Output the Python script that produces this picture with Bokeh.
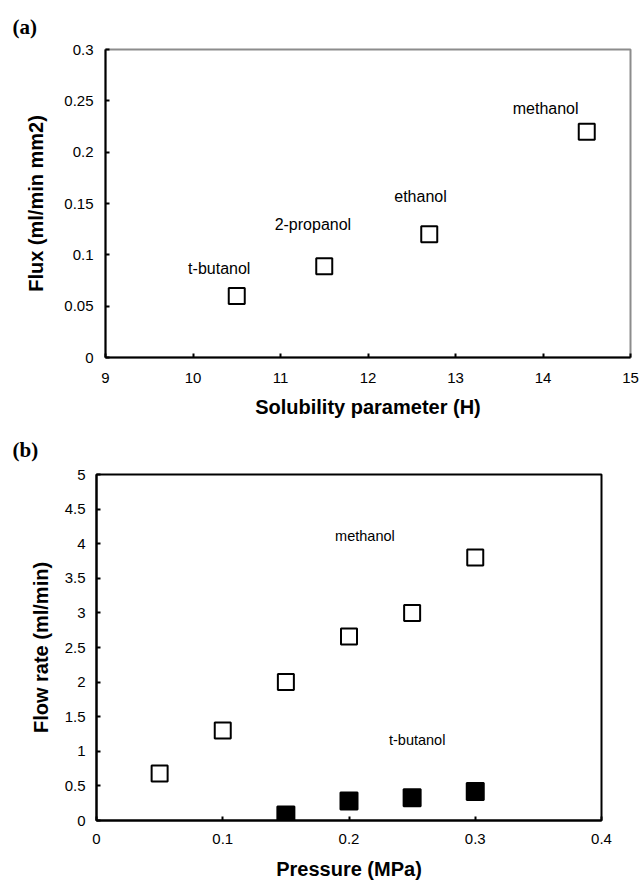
from bokeh.plotting import figure
from bokeh.layouts import column
from bokeh.models import Range1d, FixedTicker, PrintfTickFormatter, ColumnDataSource, Title
from bokeh.core.properties import value
from bokeh.embed import file_html
from bokeh.resources import INLINE

# ---- Panel (a) data ----
solvents_a = ["t-butanol", "2-propanol", "ethanol", "methanol"]
solubility = [10.5, 11.5, 12.7, 14.5]
flux = [0.06, 0.089, 0.12, 0.22]
label_x_a = [10.30, 11.37, 12.60, 14.03]
label_y_a = [0.087, 0.130, 0.157, 0.243]
xticks_a = [9, 10, 11, 12, 13, 14, 15]
yticks_a = [0, 0.05, 0.1, 0.15, 0.2, 0.25, 0.3]

# ---- Panel (b) data ----
pressure_meoh = [0.05, 0.10, 0.15, 0.20, 0.25, 0.30]
flow_meoh = [0.68, 1.30, 2.00, 2.66, 3.00, 3.80]
pressure_tbuoh = [0.15, 0.20, 0.25, 0.30]
flow_tbuoh = [0.08, 0.28, 0.33, 0.42]
labels_b = ["methanol", "t-butanol"]
label_x_b = [0.2126, 0.254]
label_y_b = [4.11, 1.16]
xticks_b = [0, 0.1, 0.2, 0.3, 0.4]
yticks_b = [0, 0.5, 1, 1.5, 2, 2.5, 3, 3.5, 4, 4.5, 5]

SANS = "Liberation Sans"
SERIF = "Liberation Serif"


def style_axes(p, xticks, yticks, xlabel, ylabel, tick_standoff_x, tick_standoff_y,
               title_standoff_x, title_standoff_y):
    p.xaxis.ticker = FixedTicker(ticks=xticks)
    p.yaxis.ticker = FixedTicker(ticks=yticks)
    p.xaxis.formatter = PrintfTickFormatter(format="%g")
    p.yaxis.formatter = PrintfTickFormatter(format="%g")
    p.xgrid.visible = False
    p.ygrid.visible = False
    p.xaxis.axis_label = xlabel
    p.yaxis.axis_label = ylabel
    for ax in (p.xaxis[0], p.yaxis[0]):
        ax.axis_line_color = "black"
        ax.axis_line_width = 2
        ax.major_tick_line_color = "black"
        ax.major_tick_line_width = 2
        ax.major_tick_in = 4
        ax.major_tick_out = 0
        ax.minor_tick_line_color = None
        ax.major_label_text_font = SANS
        ax.major_label_text_font_size = "15px"
        ax.major_label_text_color = "black"
        ax.axis_label_text_font = SANS
        ax.axis_label_text_font_style = "bold"
        ax.axis_label_text_font_size = "20px"
        ax.axis_label_text_color = "black"
    p.xaxis.major_label_standoff = tick_standoff_x
    p.yaxis.major_label_standoff = tick_standoff_y
    p.xaxis.axis_label_standoff = title_standoff_x
    p.yaxis.axis_label_standoff = title_standoff_y


def panel_tag(text, offset, standoff):
    return Title(text=text, align="left", offset=offset, standoff=standoff,
                 text_font=SERIF, text_font_style="bold", text_font_size="21px",
                 text_color="black")


# ---------------- Panel (a) ----------------
pa = figure(frame_width=525, frame_height=308,
            min_border_left=105, min_border_right=10,
            min_border_top=49, min_border_bottom=63,
            x_range=Range1d(9, 15), y_range=Range1d(0, 0.3),
            output_backend="svg", toolbar_location=None)
pa.outline_line_color = "#8c8c8c"
pa.outline_line_width = 2
style_axes(pa, xticks_a, yticks_a, "Solubility parameter (H)", "Flux (ml/min mm2)",
           15, 12, 10, 14)

src_a = ColumnDataSource(dict(x=solubility, y=flux))
pa.scatter("x", "y", source=src_a, marker="square", size=16,
           fill_color="white", line_color="black", line_width=2)
lab_a = ColumnDataSource(dict(x=label_x_a, y=label_y_a, t=solvents_a))
pa.text("x", "y", text="t", source=lab_a, text_align="center", text_baseline="middle",
        text_font=value(SANS), text_font_size="16px", text_color="black")
pa.add_layout(panel_tag("(a)", -93, 22), "above")

# ---------------- Panel (b) ----------------
pb = figure(frame_width=514, frame_height=346,
            min_border_left=105, min_border_right=30,
            min_border_top=54, min_border_bottom=60,
            x_range=Range1d(0, 0.4), y_range=Range1d(0, 5),
            output_backend="svg", toolbar_location=None)
pb.margin = (0, 0, 0, -9)
pb.outline_line_color = "black"
pb.outline_line_width = 2
style_axes(pb, xticks_b, yticks_b, "Pressure (MPa)", "Flow rate (ml/min)",
           13, 11, 11, 10)

src_m = ColumnDataSource(dict(x=pressure_meoh, y=flow_meoh))
pb.scatter("x", "y", source=src_m, marker="square", size=16,
           fill_color="white", line_color="black", line_width=2)
src_t = ColumnDataSource(dict(x=pressure_tbuoh, y=flow_tbuoh))
pb.scatter("x", "y", source=src_t, marker="square", size=17,
           fill_color="black", line_color="black", line_width=2)
lab_b = ColumnDataSource(dict(x=label_x_b, y=label_y_b, t=labels_b))
pb.text("x", "y", text="t", source=lab_b, text_align="center", text_baseline="middle",
        text_font=value(SANS), text_font_size="14.5px", text_color="black")
pb.add_layout(panel_tag("(b)", -84, 26), "above")

layout = column(pa, pb, spacing=0)
open("out.html", "w").write(file_html(layout, INLINE))
